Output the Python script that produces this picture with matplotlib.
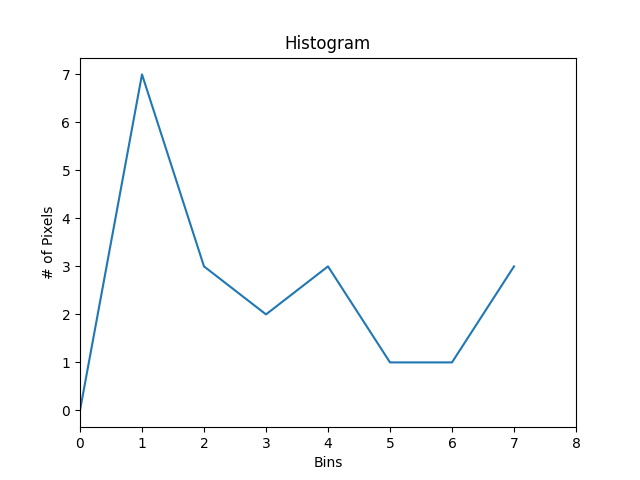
import matplotlib
matplotlib.use("Agg")
import matplotlib.pyplot as plt

bins = [0, 1, 2, 3, 4, 5, 6, 7]
counts = [0, 7, 3, 2, 3, 1, 1, 3]

plt.figure()
plt.title("Histogram")
plt.xlabel("Bins")
plt.ylabel("# of Pixels")
plt.plot(bins, counts)
plt.xlim([0, 8])
plt.savefig("out.png")
